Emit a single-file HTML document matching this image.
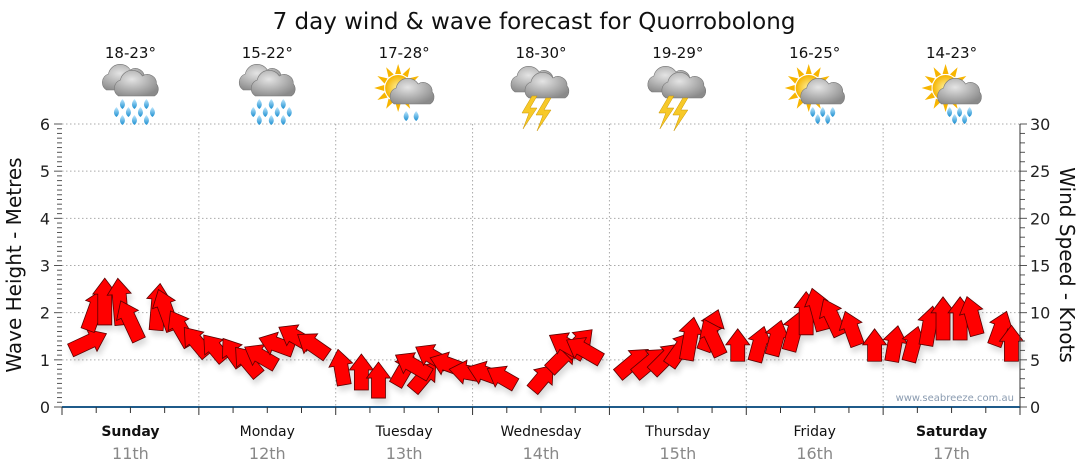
<!DOCTYPE html>
<html><head><meta charset="utf-8"><style>
body{margin:0;background:#fff;}
svg{display:block;font-family:"DejaVu Sans","Liberation Sans",sans-serif;}
</style></head><body>
<svg id="chart" width="1080" height="475" viewBox="0 0 1080 475">
<defs>
<radialGradient id="cg" cx="40%" cy="35%" r="70%"><stop offset="0" stop-color="#e4e4e4"/><stop offset="1" stop-color="#8a8a8a"/></radialGradient>
<radialGradient id="sg" cx="50%" cy="50%" r="50%"><stop offset="0" stop-color="#fff3a0"/><stop offset="1" stop-color="#f5b400"/></radialGradient>
<linearGradient id="dg" x1="0" y1="0" x2="0" y2="1"><stop offset="0" stop-color="#bfe8ff"/><stop offset="1" stop-color="#1c8fd0"/></linearGradient>
<g id="cloud"><path d="M-18,8 a9,9 0 0 1 2,-16 a12,12 0 0 1 22,-4 a9,9 0 0 1 14,8 a8,8 0 0 1 -2,12 z" fill="url(#cg)" stroke="#777" stroke-width="0.6"/></g>
<g id="drop"><path d="M0,-5 q5,6 0,10 q-5,-4 0,-10z" fill="url(#dg)"/></g>
<g id="bolt"><path d="M3,-12 l-10,17 h7 l-6,16 l14,-21 h-7 l7,-12z" fill="#f7c928" stroke="#c89400" stroke-width="0.5"/></g>
<g id="sun"><g fill="#f7b500"><path d="M0,-24 l3,10 h-6z"/><path d="M0,-24 l3,10 h-6z" transform="rotate(30)"/><path d="M0,-24 l3,10 h-6z" transform="rotate(60)"/><path d="M0,-24 l3,10 h-6z" transform="rotate(90)"/><path d="M0,-24 l3,10 h-6z" transform="rotate(120)"/><path d="M0,-24 l3,10 h-6z" transform="rotate(150)"/><path d="M0,-24 l3,10 h-6z" transform="rotate(180)"/><path d="M0,-24 l3,10 h-6z" transform="rotate(210)"/><path d="M0,-24 l3,10 h-6z" transform="rotate(240)"/><path d="M0,-24 l3,10 h-6z" transform="rotate(270)"/><path d="M0,-24 l3,10 h-6z" transform="rotate(300)"/><path d="M0,-24 l3,10 h-6z" transform="rotate(330)"/></g><circle r="13" fill="url(#sg)"/></g>
<g id="ic-rain"><use href="#cloud" x="-6" y="-10"/><use href="#cloud" x="6" y="-4"/>
<use href="#drop" x="-8" y="12"/><use href="#drop" x="4" y="12"/><use href="#drop" x="16" y="12"/>
<use href="#drop" x="-14" y="20"/><use href="#drop" x="-2" y="20"/><use href="#drop" x="10" y="20"/><use href="#drop" x="22" y="20"/>
<use href="#drop" x="-8" y="28"/><use href="#drop" x="4" y="28"/><use href="#drop" x="16" y="28"/></g>
<g id="ic-shower"><use href="#sun" x="-6" y="-4"/><use href="#cloud" x="8" y="4"/><use href="#drop" x="2" y="24"/><use href="#drop" x="12" y="24"/></g>
<g id="ic-showers"><use href="#sun" x="-6" y="-4"/><use href="#cloud" x="8" y="4"/><use href="#drop" x="-2" y="20"/><use href="#drop" x="8" y="20"/><use href="#drop" x="18" y="20"/><use href="#drop" x="3" y="27"/><use href="#drop" x="13" y="27"/></g>
<g id="ic-storm"><use href="#cloud" x="-8" y="-8"/><use href="#cloud" x="6" y="-2"/><use href="#bolt" x="-12" y="16"/><use href="#bolt" x="2" y="18"/></g>
<filter id="sh" x="-30%" y="-30%" width="160%" height="160%"><feGaussianBlur in="SourceAlpha" stdDeviation="3"/><feOffset dx="2" dy="5"/><feComponentTransfer><feFuncA type="linear" slope="0.15"/></feComponentTransfer><feMerge><feMergeNode/><feMergeNode in="SourceGraphic"/></feMerge></filter>
</defs>
<text x="534" y="29" font-size="23" text-anchor="middle" fill="#111">7 day wind &amp; wave forecast for Quorrobolong</text>
<g id="grid"></g>
<g id="icons"></g>
<g id="arrows" filter="url(#sh)"></g>
<g id="axes"></g>
<text transform="translate(21,265) rotate(-90)" font-size="20" text-anchor="middle" fill="#111">Wave Height - Metres</text>
<text transform="translate(1060,265) rotate(90)" font-size="20" text-anchor="middle" fill="#111">Wind Speed - Knots</text>
<text x="1014" y="401" font-size="10" text-anchor="end" fill="#8a9bb0">www.seabreeze.com.au</text>
</svg>
<script>
const days=["Sunday","Monday","Tuesday","Wednesday","Thursday","Friday","Saturday"];
const dates=["11th","12th","13th","14th","15th","16th","17th"];
const temps=["18-23°","15-22°","17-28°","18-30°","19-29°","16-25°","14-23°"];
const icons=["ic-rain","ic-rain","ic-shower","ic-storm","ic-storm","ic-showers","ic-showers"];
const waveTicks=[0,1,2,3,4,5,6];
const windTicks=[0,5,10,15,20,25,30];
// 3-hourly data
const waveHeight=[1.2,1.63,1.74,1.74,1.42,1.63,1.63,1.31,1.1,1.0,0.89,0.68,0.89,1.2,1.31,1.1,0.47,0.36,0.19,0.47,0.36,0.68,0.89,0.78,0.68,0.61,0.47,0.36,0.78,1.1,1.1,1.0,0.68,0.68,0.74,0.89,1.0,1.2,1.1,0.97,0.97,1.1,1.2,1.53,1.63,1.53,1.31,0.97,0.97,0.97,1.31,1.42,1.42,1.53,1.31,0.97];
const windSpeed=[11,12,13,13,12,13,12,11,10,9,9,10,10,10,10,10,10,10,10,10,10,11,10,10,9,9,9,9,10,10,11,11,11,11,11,11,12,12,11,9,10,10,11,12,12,11,10,9,10,10,11,12,12,11,10,10];
const windDir=[65,20,0,355,335,5,340,330,320,320,325,320,300,290,300,305,350,0,0,30,40,300,300,290,280,290,300,40,45,45,300,300,50,50,45,35,10,20,335,0,15,15,15,0,345,335,340,0,10,15,10,0,0,345,20,0];
const NS="http://www.w3.org/2000/svg";
const X0=62,X1=1020,Y0=407,Y1=124;
const xScale=h=>X0+(X1-X0)*h/168;
const yWave=v=>Y0-(Y0-Y1)*v/6;
const yWind=v=>Y0-(Y0-Y1)*v/30;
const lenScale=k=>Math.max(6,k*3.6-16);
function mk(tag,attrs,parent){const e=document.createElementNS(NS,tag);for(const k in attrs)e.setAttribute(k,attrs[k]);parent.appendChild(e);return e;}
const grid=document.getElementById('grid'),axes=document.getElementById('axes'),ic=document.getElementById('icons'),ar=document.getElementById('arrows');
waveTicks.forEach(v=>{
  if(v>0){const l=mk('line',{x1:X0,x2:X1,y1:yWave(v),y2:yWave(v),stroke:'#aaa','stroke-dasharray':'1.5,2.5'},grid);
  
  }
  const t=mk('text',{x:50,y:yWave(v)+6,'font-size':16,'text-anchor':'end',fill:'#222'},axes);t.textContent=v;
  
  
});
for(let m=0;m<=60;m++){const y=yWave(m/10);mk('line',{x1:m%10?57:54,x2:X0,y1:y,y2:y,stroke:'#555'},axes);}
windTicks.forEach(v=>{
  const t=mk('text',{x:1030,y:yWind(v)+6,'font-size':16,fill:'#222'},axes);t.textContent=v;
  
  
});
for(let k=0;k<=30;k++){const y=yWind(k);mk('line',{x1:X1,x2:k%5?1025:1027,y1:y,y2:y,stroke:'#555'},axes);}
mk('line',{x1:X1,x2:X1,y1:Y1,y2:Y0,stroke:'#333'},axes);
mk('line',{x1:X0,x2:X1,y1:Y0,y2:Y0,stroke:'#1f5b8a','stroke-width':2},axes);
for(let h=0;h<=168;h+=6){const x=xScale(h);mk('line',{x1:x,x2:x,y1:Y0,y2:h%24?413:415,stroke:'#333'},axes);}
days.forEach((d,i)=>{
  const x=xScale(i*24),cx=xScale(i*24+12);
  if(i>0){const l=mk('line',{x1:x,x2:x,y1:Y1,y2:Y0,stroke:'#aaa','stroke-dasharray':'1.5,2.5'},grid);
  
  }
  const t=mk('text',{x:cx,y:436,'font-size':14,'text-anchor':'middle',fill:'#111','font-weight':(i==0||i==6)?'bold':'normal'},axes);t.textContent=d;
  
  
  const t2=mk('text',{x:cx,y:459,'font-size':16,'text-anchor':'middle',fill:'#888'},axes);t2.textContent=dates[i];
  
  
  const t3=mk('text',{x:cx,y:58,'font-size':15,'text-anchor':'middle',fill:'#111'},ic);t3.textContent=temps[i];
  
  
  const u=mk('use',{href:'#'+icons[i],x:cx,y:92},ic);
  
  
});
waveHeight.forEach((w,i)=>{
  const x=xScale(i*3+1.5),y=yWave(w),L=lenScale(windSpeed[i]);
  const p=mk('path',{d:`M-7,0 V${-L} H-12 L0,${-L-16} L12,${-L} H7 V0 Z`,fill:'#ff0000',stroke:'#5a0000','stroke-width':0.8,transform:`translate(${x},${y}) rotate(${windDir[i]})`},ar);
  
  
});
</script>
</body></html>
